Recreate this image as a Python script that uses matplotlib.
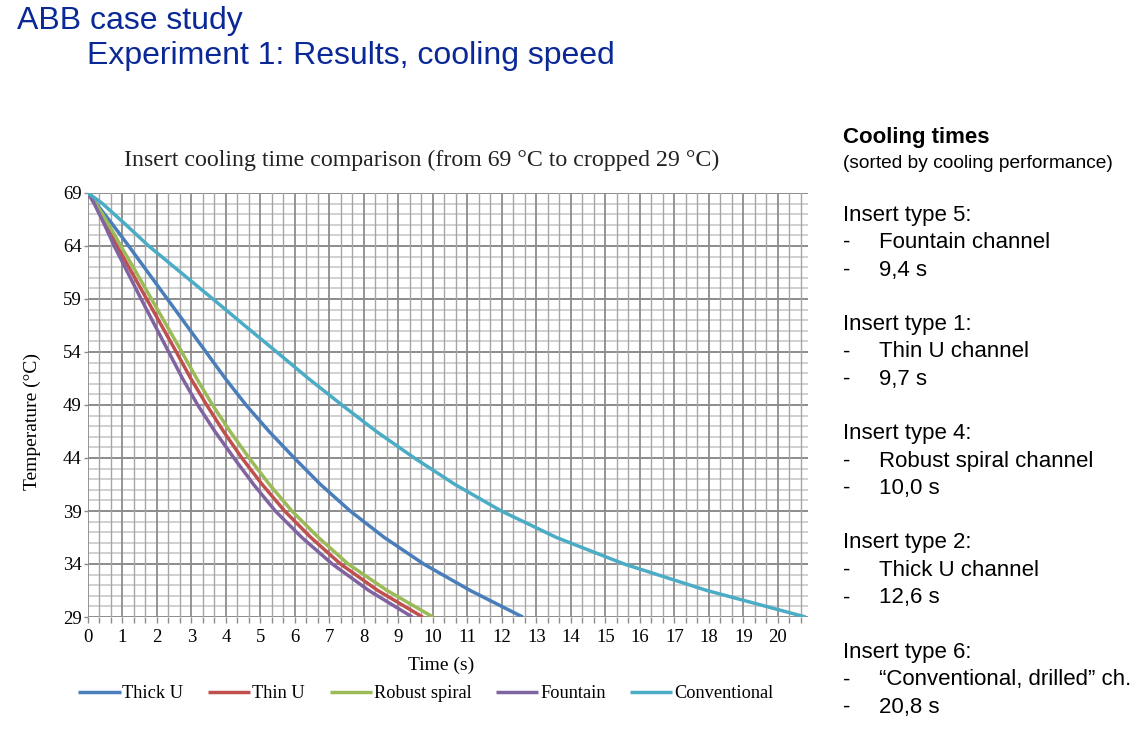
import matplotlib
matplotlib.use("Agg")
import matplotlib.pyplot as plt

# ---- data ----
temps = [69, 68, 67, 66, 65, 64, 61.5, 59, 56.5, 54, 51.5, 49, 46.5, 44,
         41.5, 39, 36.5, 34, 31.5, 29]
t_thick_u = [0, 0.24, 0.48, 0.72, 0.95, 1.18, 1.74, 2.30, 2.86, 3.42, 3.98, 4.58,
             5.25, 5.98, 6.74, 7.60, 8.59, 9.73, 11.08, 12.6]
t_thin_u = [0, 0.2, 0.37, 0.53, 0.69, 0.84, 1.27, 1.70, 2.13, 2.56, 2.98, 3.44,
            3.93, 4.46, 5.05, 5.70, 6.46, 7.32, 8.40, 9.7]
t_robust_spiral = [0, 0.22, 0.42, 0.6, 0.78, 0.95, 1.40, 1.84, 2.28, 2.72, 3.15,
                   3.61, 4.12, 4.67, 5.26, 5.91, 6.68, 7.54, 8.67, 10.0]
t_fountain = [0, 0.18, 0.33, 0.48, 0.62, 0.76, 1.15, 1.54, 1.94, 2.34, 2.74,
              3.18, 3.68, 4.23, 4.80, 5.43, 6.20, 7.08, 8.14, 9.4]
t_conventional = [0, 0.42, 0.76, 1.10, 1.43, 1.76, 2.69, 3.62, 4.54, 5.47, 6.39,
                  7.36, 8.36, 9.46, 10.64, 11.98, 13.58, 15.54, 17.94, 20.8]

series_names = ["Thick U", "Thin U", "Robust spiral", "Fountain", "Conventional"]
series_times = [t_thick_u, t_thin_u, t_robust_spiral, t_fountain, t_conventional]
series_colors = ["#4a7ebb", "#c0504d", "#9bbb59", "#8064a2", "#4bacc6"]

y_ticks = [69, 64, 59, 54, 49, 44, 39, 34, 29]
x_ticks = list(range(0, 21))

info_lines = [
    ("Insert type 5:", "Fountain channel", "9,4 s"),
    ("Insert type 1:", "Thin U channel", "9,7 s"),
    ("Insert type 4:", "Robust spiral channel", "10,0 s"),
    ("Insert type 2:", "Thick U channel", "12,6 s"),
    ("Insert type 6:", "\u201cConventional, drilled\u201d ch.", "20,8 s"),
]

W, H = 1147, 747
fig = plt.figure(figsize=(W / 100, H / 100), dpi=100)

def fx(px):
    return px / W

def fy(py):
    return 1 - py / H

title_color = "#0a2896"
sans = ["Liberation Sans", "DejaVu Sans"]
serif = ["Liberation Serif", "DejaVu Serif"]

fig.text(fx(17), fy(29), "ABB case study", fontsize=23, color=title_color,
         family=sans, va="baseline", ha="left")
fig.text(fx(87), fy(64), "Experiment 1: Results, cooling speed", fontsize=23,
         color=title_color, family=sans, va="baseline", ha="left")

ax = fig.add_axes([fx(88), fy(617), fx(808) - fx(88), fy(193) - fy(617)])
ax.set_xlim(0, 20.87)
ax.set_ylim(29, 69)

# grid
for k in range(0, 63):
    xv = k / 3
    if xv > 20.87:
        break
    major = (k % 3 == 0)
    ax.axvline(xv, color="#8c8c8c" if major else "#a6a6a6",
               lw=1.3 if major else 1.0, zorder=1)
for yv in range(29, 70):
    major = ((yv - 29) % 5 == 0)
    ax.axhline(yv, color="#8c8c8c" if major else "#c8c8c8",
               lw=1.4 if major else 1.2, zorder=0.9)

for name, tt, col in zip(series_names, series_times, series_colors):
    ax.plot(tt, temps, color=col, lw=2.5, label=name, zorder=3,
            solid_joinstyle="round", solid_capstyle="butt")

for s in ax.spines.values():
    s.set_visible(False)
ax.set_xticks(x_ticks)
ax.set_xticks([k / 3 for k in range(0, 63)], minor=True)
ax.set_yticks(y_ticks)
ax.tick_params(axis="x", which="both", length=4, color="#8c8c8c", width=1,
               labelsize=13.5, pad=5)
ax.tick_params(axis="y", which="both", length=3, color="#8c8c8c", width=1,
               labelsize=13.5, pad=1.5)
for lab in ax.get_xticklabels() + ax.get_yticklabels():
    lab.set_family(serif)

fig.text(fx(422), fy(160), "Insert cooling time comparison (from 69 \u00b0C to cropped 29 \u00b0C)",
         fontsize=17.2, family=serif, ha="center", va="center", color="#222222")
fig.text(fx(441), fy(665), "Time (s)", fontsize=14, family=serif,
         ha="center", va="center")
fig.text(fx(32), fy(421), "Temperature (\u00b0C)", fontsize=14, family=serif,
         ha="center", va="center", rotation=90)

leg = fig.legend(loc="center", bbox_to_anchor=(fx(426), fy(694)), ncol=5,
                 frameon=False, handlelength=2.3, handletextpad=0.1,
                 columnspacing=1.35, prop={"family": serif, "size": 13.2})

# right-hand text block
fig.text(fx(843), fy(137), "Cooling times", fontsize=16, fontweight="bold",
         family=sans, ha="left", va="center")
fig.text(fx(843), fy(163), "(sorted by cooling performance)", fontsize=13.8,
         family=sans, ha="left", va="center")
y0 = 215
for i, (a, b, c) in enumerate(info_lines):
    yb = y0 + i * 109.3
    fig.text(fx(843), fy(yb), a, fontsize=16, family=sans, ha="left", va="center")
    fig.text(fx(843), fy(yb + 27.5), "-", fontsize=16, family=sans, ha="left", va="center")
    fig.text(fx(879), fy(yb + 27.5), b, fontsize=16, family=sans, ha="left", va="center")
    fig.text(fx(843), fy(yb + 55), "-", fontsize=16, family=sans, ha="left", va="center")
    fig.text(fx(879), fy(yb + 55), c, fontsize=16, family=sans, ha="left", va="center")

fig.savefig("out.png", dpi=100)
